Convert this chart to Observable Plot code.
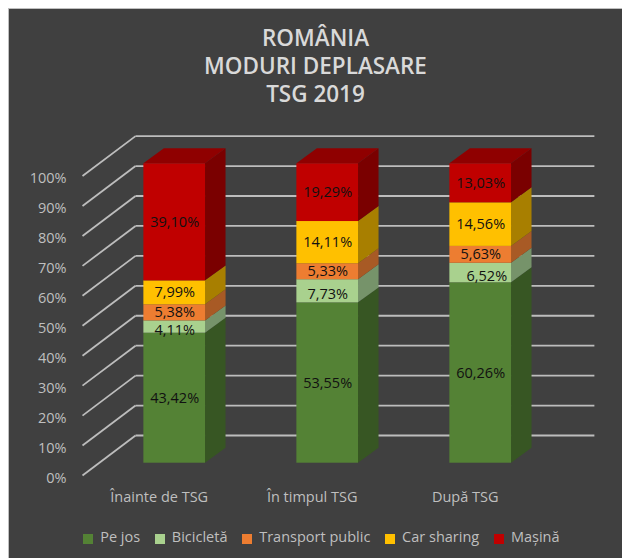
<!DOCTYPE html>
<html>
<head>
<meta charset="utf-8">
<script src="https://cdn.jsdelivr.net/npm/d3@7"></script>
<script src="https://cdn.jsdelivr.net/npm/@observablehq/plot@0.6"></script>
<style>
  html, body { margin: 0; padding: 0; background: #fff; }
  #chart {
    position: absolute; left: 8px; top: 8px; width: 613px; height: 549px;
    background: #404040; border-left: 1px solid #bfbfbf; border-top: 1px solid #bfbfbf;
    font-family: "Open Sans", sans-serif; overflow: hidden;
  }
  #title {
    padding-top: 15px; text-align: center; color: #d9d9d9;
    font-size: 22.5px; font-weight: 600; line-height: 28px; height: 82px;
  }
  #chart svg { display: block; margin-top: 4px; }
  #legend { position: absolute; left: 26px; right: 0; top: 518px; display: flex; justify-content: center; }
  #legend > div { margin: 0 !important; color: #bfbfbf; font-size: 14.5px; font-family: "Open Sans", sans-serif; min-height: 0 !important; }
</style>
</head>
<body>
<div id="chart">
  <div id="title">ROMÂNIA<br>MODURI DEPLASARE<br>TSG 2019</div>
  <div id="plot"></div>
  <div id="legend"></div>
</div>
<script>
const categories = ["Înainte de TSG", "În timpul TSG", "După TSG"];
const seriesNames = ["Pe jos", "Bicicletă", "Transport public", "Car sharing", "Mașină"];
const peJos = [43.42, 53.55, 60.26];
const bicicleta = [4.11, 7.73, 6.52];
const transportPublic = [5.38, 5.33, 5.63];
const carSharing = [7.99, 14.11, 14.56];
const masina = [39.10, 19.29, 13.03];
const yTicks = [0, 10, 20, 30, 40, 50, 60, 70, 80, 90, 100];

const frontColors = ["#548235", "#a9d18e", "#ed7d31", "#ffc000", "#c00000"];
const sideColors = ["#375623", "#76936a", "#a85a25", "#a87f00", "#7a0000"];
const topColors = ["#3f6328", "#7f9e6c", "#b3602a", "#b38600", "#8f0000"];

const values = [peJos, bicicleta, transportPublic, carSharing, masina];

// Oblique-projection geometry, in scale units
const barWidth = 0.403, barDepthX = 0.134, barDepthY = 5;
const wallBackX = -0.256, wallFrontX = -0.6026, wallRightX = 2.743;
const wallBackY = 9.25, wallFrontY = -4.1;

const segments = [];
categories.forEach((category, i) => {
  let base = 0;
  values.forEach((vals, s) => {
    segments.push({i, s, series: seriesNames[s], value: vals[i], lo: base, hi: base + vals[i], last: s === values.length - 1});
    base += vals[i];
  });
});

const sideFaces = segments.flatMap((d) => [
  {key: `${d.i}-${d.s}`, s: d.s, x: d.i + barWidth / 2, y1: d.lo, y2: d.hi},
  {key: `${d.i}-${d.s}`, s: d.s, x: d.i + barWidth / 2 + barDepthX, y1: d.lo + barDepthY, y2: d.hi + barDepthY}
]);
const topFaces = segments.filter((d) => d.last).flatMap((d) => [
  {key: d.i, s: d.s, y: d.hi, x1: d.i - barWidth / 2, x2: d.i + barWidth / 2},
  {key: d.i, s: d.s, y: d.hi + barDepthY, x1: d.i - barWidth / 2 + barDepthX, x2: d.i + barWidth / 2 + barDepthX}
]);
const gridColor = "#bdbdbd";
const fontFamily = '"Open Sans", sans-serif';
const labelText = (d) => d.value.toFixed(2).replace(".", ",") + "%";

const plot = Plot.plot({
  width: 613,
  height: 405,
  marginLeft: 57,
  marginBottom: 24,
  marginTop: 0,
  marginRight: 0,
  style: {background: "transparent", fontFamily, overflow: "visible"},
  x: {domain: [0, 2], range: [165.2, 471.2]},
  y: {domain: [0, 100], range: [352.7, 53.3]},
  color: {domain: seriesNames, range: frontColors},
  marks: [
    Plot.link(yTicks, {
      x1: () => wallFrontX, x2: () => wallBackX,
      y1: (d) => d + wallFrontY, y2: (d) => d + wallBackY,
      stroke: gridColor, strokeWidth: 1.8
    }),
    Plot.link(yTicks, {
      x1: () => wallBackX, x2: () => wallRightX,
      y1: (d) => d + wallBackY, y2: (d) => d + wallBackY,
      stroke: gridColor, strokeWidth: 1.8
    }),
    Plot.areaY(sideFaces, {
      x: "x", y1: "y1", y2: "y2", z: "key",
      fill: {value: (d) => sideColors[d.s], scale: null}
    }),
    Plot.areaX(topFaces, {
      y: "y", x1: "x1", x2: "x2", z: "key",
      fill: {value: (d) => topColors[d.s], scale: null}
    }),
    Plot.rect(segments, {
      x1: (d) => d.i - barWidth / 2, x2: (d) => d.i + barWidth / 2,
      y1: "lo", y2: "hi", fill: "series"
    }),
    Plot.text(segments, {
      filter: (d) => d.s !== 1,
      x: "i", y: (d) => (d.lo + d.hi) / 2,
      text: labelText, fill: "#111", fontSize: 14.5
    }),
    // The thin "Bicicletă" labels sit a little below their segment's centre, as in the reference.
    Plot.text(segments, {
      filter: (d) => d.s === 1,
      x: (d) => d.i + (d.i === 2 ? 0.04 : 0), y: (d) => (d.lo + d.hi) / 2,
      dy: 3,
      text: labelText, fill: "#111", fontSize: 14.5
    }),
    Plot.axisY({
      anchor: "left", ticks: yTicks, tickFormat: (d) => d + "%",
      tickSize: 0, tickPadding: 0, dy: 15, label: null,
      color: "#bfbfbf", fontSize: 14.5
    }),
    Plot.axisX({
      anchor: "bottom", ticks: categories.map((_, i) => i), tickFormat: (i) => categories[i],
      tickSize: 0, tickPadding: 0, dx: -15.5, label: null,
      color: "#bfbfbf", fontSize: 14.5
    })
  ]
});
document.getElementById("plot").append(plot);
document.getElementById("legend").append(plot.legend("color", {swatchSize: 10}));
</script>
</body>
</html>
